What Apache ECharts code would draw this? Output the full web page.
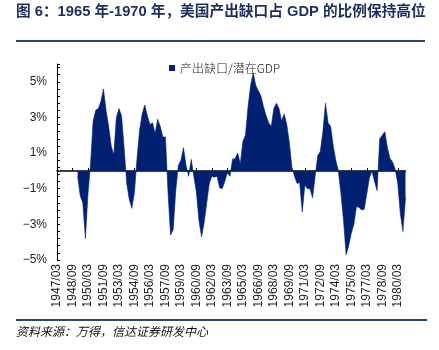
<!DOCTYPE html>
<html>
<head>
<meta charset="utf-8">
<script src="https://cdn.jsdelivr.net/npm/echarts@6/dist/echarts.min.js"></script>
<style>
html,body{margin:0;padding:0;background:#fff;}
#c{width:439px;height:350px;}
</style>
</head>
<body>
<div id="c"></div>
<script>
// Quarterly categories 1947/03 .. 1980/12
var startYear = 1947, endYear = 1980;
var quarterMonths = ['03', '06', '09', '12'];
var categories = [];
for (var y = startYear; y <= endYear; y++) {
  for (var m = 0; m < quarterMonths.length; m++) categories.push(y + '/' + quarterMonths[m]);
}

var seriesName = '产出缺口/潜在GDP';
// Output gap as % of potential GDP; no data before 1949
var outputGap = [
  null, null, null, null, null, null, null, null,
  -0.3, -1.4, -1.8, -3.8, -1.3, 0.4, 2.8, 3.4,
  3.5, 3.9, 4.6, 3.4, 2.5, 1.4, 0.9, 3.0,
  3.5, 3.1, 1.3, -0.7, -1.6, -2.1, -1.2, 0.7,
  2.3, 3.2, 3.7, 3.1, 2.6, 2.7, 2.1, 2.9,
  2.5, 1.9, 1.9, -1.2, -3.6, -3.3, -1.1, 0.3,
  0.6, 1.3, 0.3, -0.3, 0.65, -0.3, -1.2, -2.8,
  -3.7, -2.9, -1.8, -0.7, -0.3, -0.35, -0.3, -0.95,
  -1.0, -0.6, -0.1, -0.3, 0.65, 0.7, 1.0, 0.4,
  1.65, 2.0, 3.6, 4.8, 5.5, 4.8, 4.5, 4.2,
  3.6, 3.1, 2.7, 2.5, 3.5, 3.8, 3.5, 2.8,
  3.2, 2.6, 1.6, 0.2, -0.3, -0.7, -0.65, -2.3,
  -0.8, -1.0, -1.0, -1.5, -0.3, 0.85, 1.1, 2.2,
  3.8, 2.7, 2.5, 1.4, 0.6, 0.0, -1.3, -2.8,
  -4.7, -4.2, -3.5, -3.0, -2.0, -2.05, -2.2, -2.15,
  -1.3, -0.4, 0.0, -0.6, -1.1, 1.8, 2.0, 2.2,
  1.3, 0.7, 0.5, 0.1, -0.7, -2.4, -3.4, -1.5
];

var yMin = -5, yMax = 6, yStep = 0.4;
var yLabelValues = [-5, -3, -1, 1, 3, 5];

var titleText = '图 6：1965 年-1970 年，美国产出缺口占 GDP 的比例保持高位';
var sourceText = '资料来源：万得，信达证券研发中心';

var navy = '#002171';
var ruleColor = '#2e4677';

var chart = echarts.init(document.getElementById('c'), null, {renderer: 'canvas'});
chart.setOption({
  animation: false,
  backgroundColor: '#fff',
  textStyle: {fontFamily: '"Liberation Sans", Arial, "Noto Sans CJK SC", sans-serif'},
  grid: {left: 57, right: 33.5, top: 64, bottom: 90, containLabel: false},
  legend: {
    data: [seriesName],
    top: 57, left: 164,
    itemWidth: 6, itemHeight: 6,
    itemGap: 6,
    icon: 'rect',
    textStyle: {fontSize: 12, color: '#222', fontFamily: '"Noto Sans CJK SC", sans-serif', fontWeight: 300}
  },
  xAxis: [{
    type: 'category',
    data: categories,
    boundaryGap: false,
    position: 'bottom',
    axisLine: {show: false, onZero: false},
    axisTick: {show: false},
    axisLabel: {
      rotate: 90, interval: 5, margin: 4, fontSize: 12, color: '#222',
      fontFamily: '"Liberation Sans", Arial, sans-serif'
    },
    splitLine: {show: false}
  }, {
    type: 'category',
    data: categories,
    boundaryGap: false,
    position: 'top',
    axisLine: {show: true, onZero: true, lineStyle: {color: '#000', width: 1.5}},
    axisTick: {show: true, interval: 5, inside: false, length: 3, lineStyle: {color: '#000', width: 1}},
    axisLabel: {show: false},
    splitLine: {show: false}
  }],
  yAxis: {
    type: 'value',
    min: yMin, max: yMax, interval: yStep,
    axisLine: {show: true, lineStyle: {color: '#000', width: 1}},
    axisTick: {show: true, inside: true, length: 3, lineStyle: {color: '#000'}},
    axisLabel: {
      fontSize: 12, color: '#222', margin: 10,
      fontFamily: '"Liberation Sans", Arial, sans-serif',
      formatter: function (v) {
        for (var i = 0; i < yLabelValues.length; i++) {
          if (Math.abs(v - yLabelValues[i]) < 1e-6) {
            var n = yLabelValues[i];
            return (n < 0 ? '\u2212' + Math.abs(n) : n) + '%';
          }
        }
        return '';
      }
    },
    splitLine: {show: false}
  },
  series: [{
    name: seriesName,
    type: 'line',
    xAxisIndex: 0,
    data: outputGap,
    showSymbol: false,
    symbol: 'none',
    lineStyle: {width: 0.6, color: navy},
    itemStyle: {color: navy},
    areaStyle: {color: navy, opacity: 1, origin: 0}
  }],
  graphic: [
    {type: 'text', left: 16, top: 5, style: {
      text: titleText, fill: '#1c2f5c',
      font: 'bold 14.7px "Liberation Sans", Arial, "Noto Sans CJK SC", sans-serif'
    }},
    {type: 'line', shape: {x1: 16, y1: 41, x2: 425, y2: 41}, style: {stroke: ruleColor, lineWidth: 2}},
    {type: 'line', shape: {x1: 16, y1: 320, x2: 427, y2: 320}, style: {stroke: ruleColor, lineWidth: 2}},
    {type: 'text', left: 16, top: 325, style: {
      text: sourceText, fill: '#111',
      font: 'italic 12px "Noto Sans CJK SC", sans-serif'
    }}
  ]
});
</script>
</body>
</html>
